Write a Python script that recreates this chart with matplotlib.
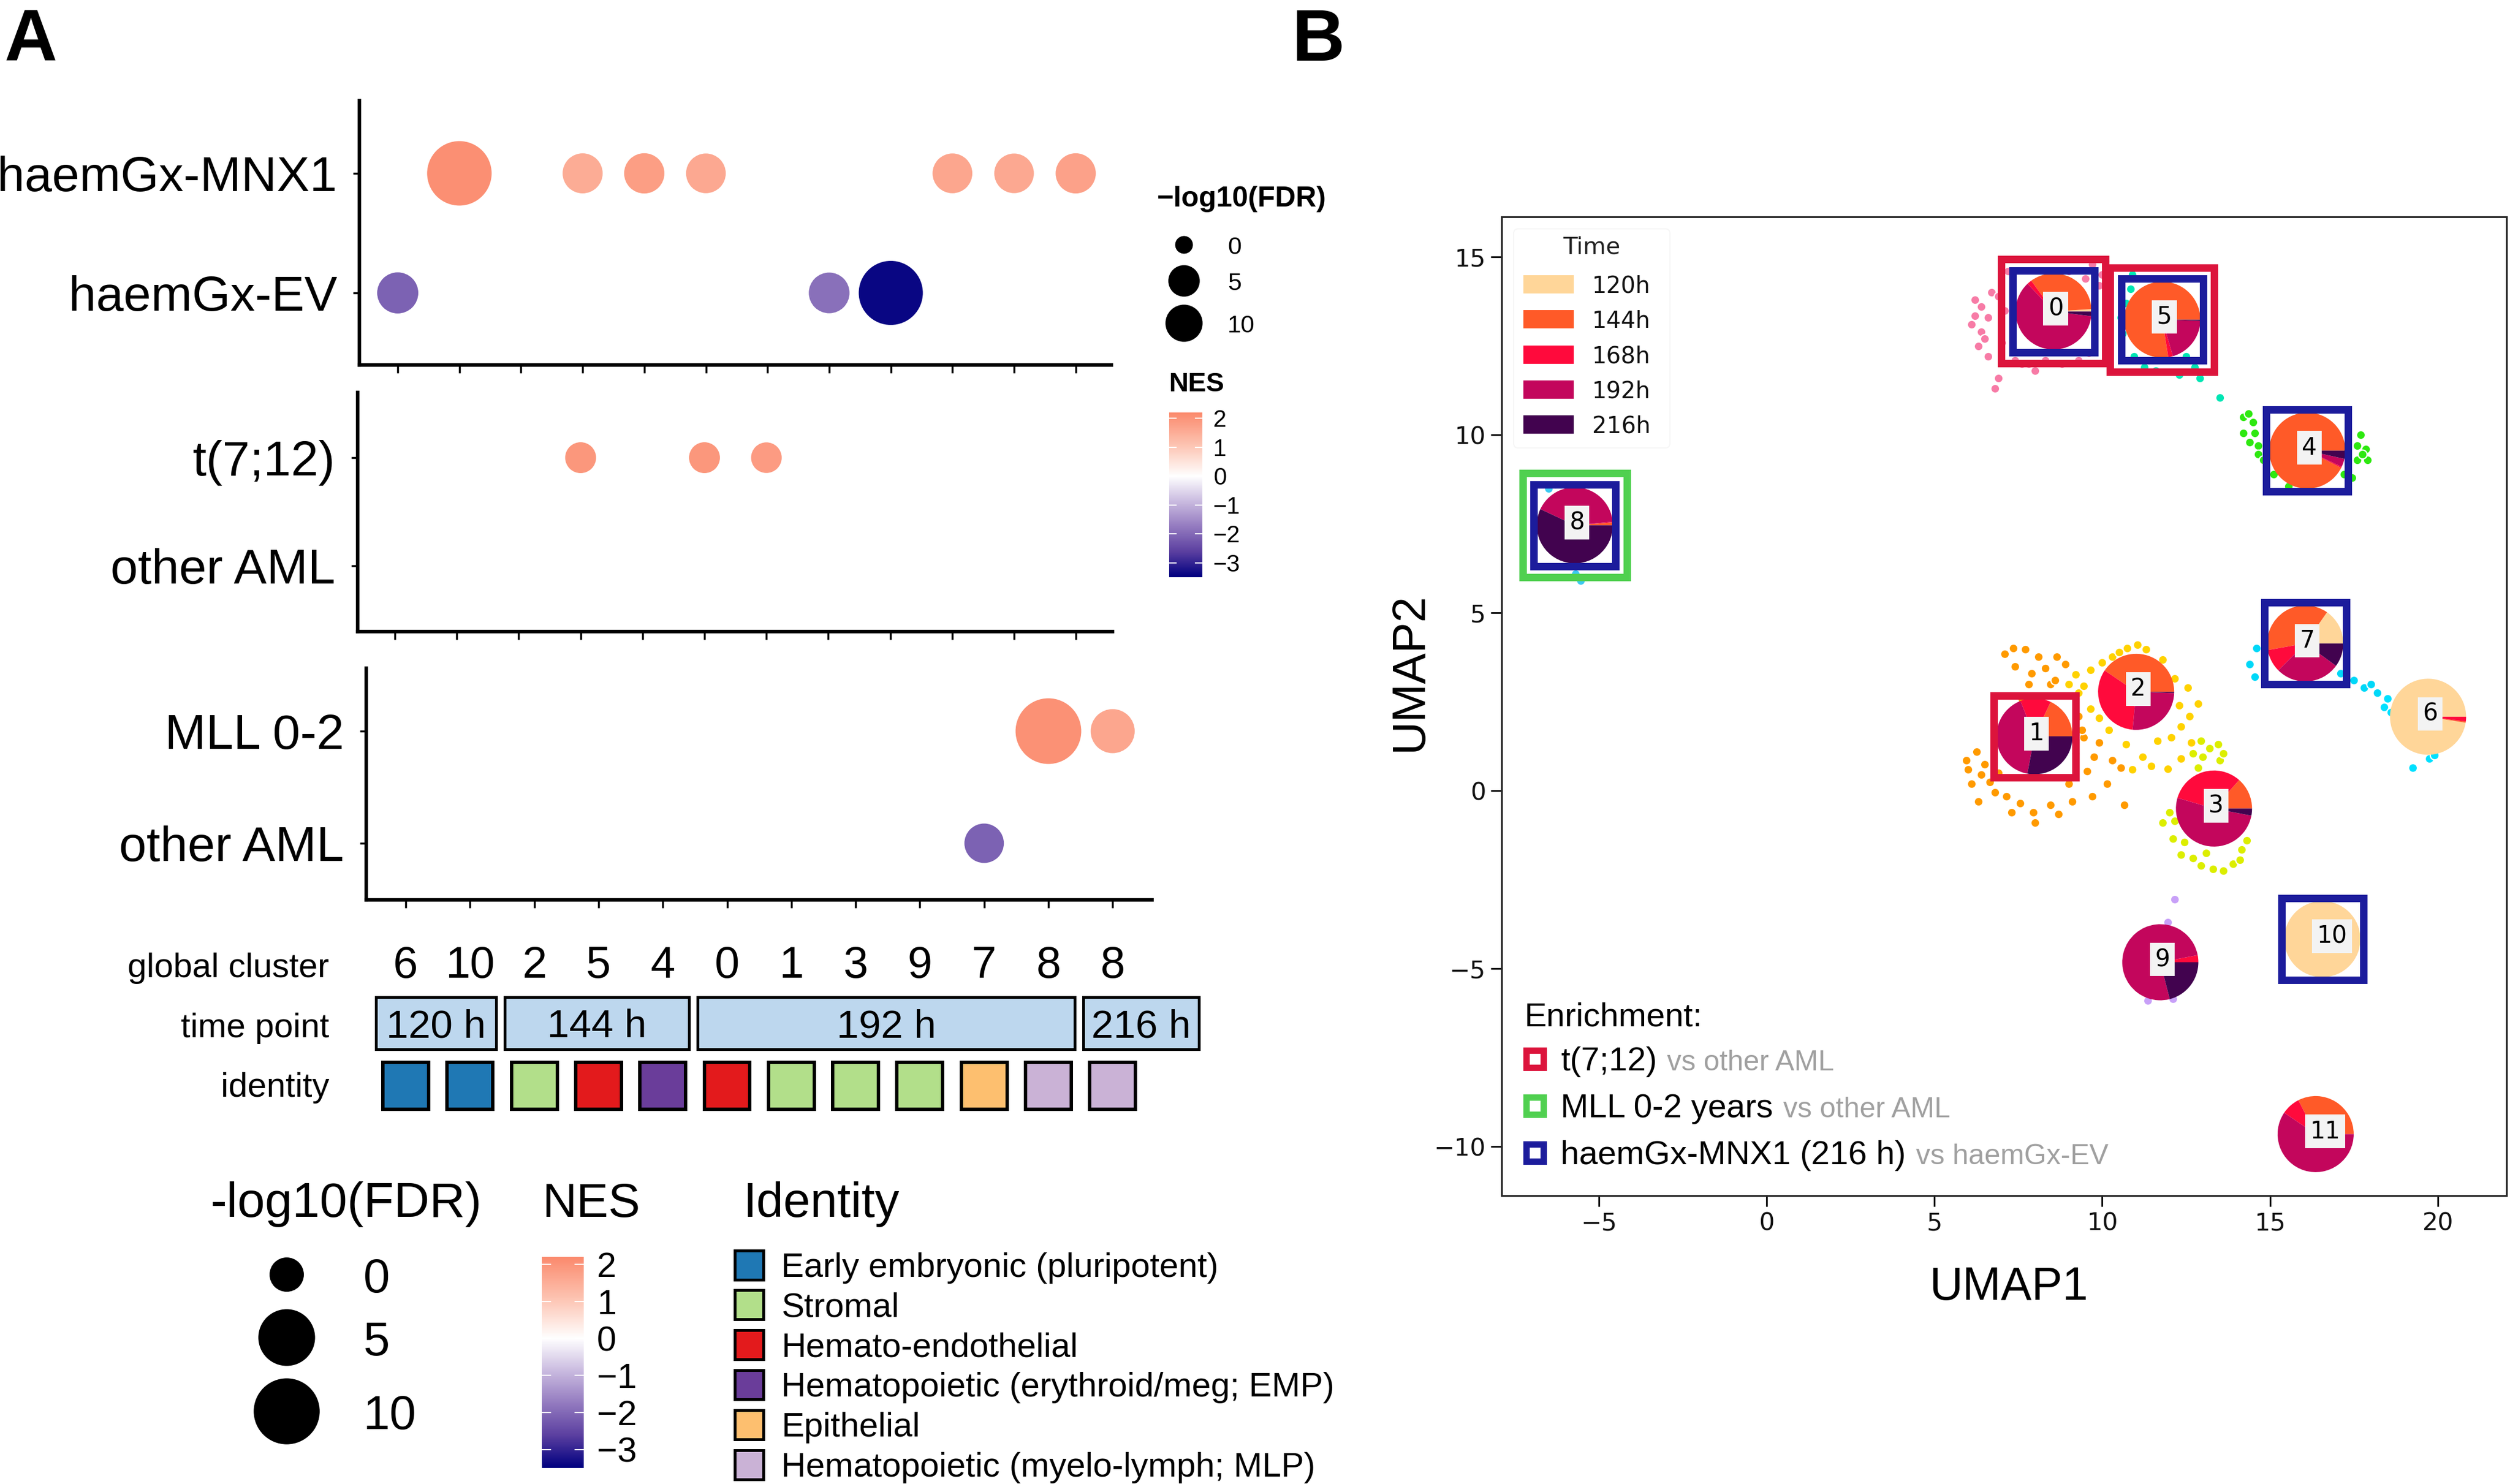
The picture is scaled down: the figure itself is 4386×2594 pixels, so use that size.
import numpy as np
import matplotlib
matplotlib.use('Agg')
import matplotlib.pyplot as plt
from matplotlib.patches import Rectangle, Wedge, FancyBboxPatch
from matplotlib.colors import LinearSegmentedColormap, Normalize
from matplotlib.transforms import ScaledTranslation

W, H, DPI = 4386, 2594, 100
plt.rcParams['font.family'] = ['Liberation Sans', 'DejaVu Sans']

# ---------------- panel A data ----------------
nan = np.nan
clusters = ['6', '10', '2', '5', '4', '0', '1', '3', '9', '7', '8', '8']
time_of_col = ['120 h', '120 h', '144 h', '144 h', '144 h',
               '192 h', '192 h', '192 h', '192 h', '192 h', '192 h', '216 h']
identity_of_col = ['Early embryonic (pluripotent)', 'Early embryonic (pluripotent)',
                   'Stromal', 'Hemato-endothelial', 'Hematopoietic (erythroid/meg; EMP)',
                   'Hemato-endothelial', 'Stromal', 'Stromal', 'Stromal', 'Epithelial',
                   'Hematopoietic (myelo-lymph; MLP)', 'Hematopoietic (myelo-lymph; MLP)']
identity_names = ['Early embryonic (pluripotent)', 'Stromal', 'Hemato-endothelial',
                  'Hematopoietic (erythroid/meg; EMP)', 'Epithelial',
                  'Hematopoietic (myelo-lymph; MLP)']
identity_colors = ['#1F78B4', '#B2DF8A', '#E31A1C', '#6A3D9A', '#FDBF6F', '#CAB2D6']

# NES and -log10(FDR) per column (nan = not significant)
mnx1_nes = [nan, 2.1, nan, 1.55, 1.8, 1.6, nan, nan, nan, 1.65, 1.6, 1.75]
mnx1_fdr = [nan, 58, nan, 13.2, 13.5, 12.8, nan, nan, nan, 12.9, 12.7, 13.4]
ev_nes = [-2.1, nan, nan, nan, nan, nan, nan, -1.9, -3.4, nan, nan, nan]
ev_fdr = [14.5, nan, nan, nan, nan, nan, nan, 14.0, 57, nan, nan, nan]
t712_nes = [nan, nan, nan, 1.95, nan, 1.95, 1.85, nan, nan, nan, nan, nan]
t712_fdr = [nan, nan, nan, 4.6, nan, 4.6, 4.4, nan, nan, nan, nan, nan]
aml1_nes = [nan] * 12
aml1_fdr = [nan] * 12
mll_nes = [nan, nan, nan, nan, nan, nan, nan, nan, nan, nan, 2.05, 1.65]
mll_fdr = [nan, nan, nan, nan, nan, nan, nan, nan, nan, nan, 61, 18.4]
aml2_nes = [nan, nan, nan, nan, nan, nan, nan, nan, nan, -2.1, nan, nan]
aml2_fdr = [nan, nan, nan, nan, nan, nan, nan, nan, nan, 12.5, nan, nan]

fdr_breaks = [0, 5, 10]
nes_breaks = [2, 1, 0, -1, -2, -3]
nes_lo, nes_hi = -3.5, 2.2

# ---------------- panel B data ----------------
time_labels = ['120h', '144h', '168h', '192h', '216h']
time_colors = ['#FFD699', '#FF5A28', '#FF0A3C', '#C3065C', '#42034F']
pie_x = [8.55, 7.98, 11.01, 13.33, 16.11, 11.79, 19.71, 16.05, -5.72, 11.73, 16.56, 16.36]
pie_y = [13.47, 1.53, 2.78, -0.50, 9.56, 13.24, 2.08, 4.14, 7.46, -4.82, -4.17, -9.65]
# fraction of cells per time point (120h, 144h, 168h, 192h, 216h), cluster 0..11
pie_frac = [
    [0.01, 0.34, 0.02, 0.61, 0.02],
    [0.0, 0.18, 0.13, 0.41, 0.28],
    [0.0, 0.405, 0.33, 0.26, 0.005],
    [0.0, 0.135, 0.32, 0.515, 0.03],
    [0.0, 0.925, 0.005, 0.035, 0.035],
    [0.0, 0.775, 0.02, 0.20, 0.005],
    [0.975, 0.005, 0.02, 0.0, 0.0],
    [0.153, 0.375, 0.097, 0.275, 0.10],
    [0.0, 0.012, 0.003, 0.415, 0.57],
    [0.0, 0.0, 0.03, 0.76, 0.21],
    [1.0, 0.0, 0.0, 0.0, 0.0],
    [0.0, 0.325, 0.08, 0.595, 0.0],
]
enrich_t712 = [0, 5, 1]
enrich_mll = [8]
enrich_mnx1 = [0, 5, 4, 8, 7, 10]

cells = {
    0: [(6.2, 13.8), (6.4, 13.6), (6.1, 13.1), (6.4, 12.9), (6.3, 12.5), (6.6, 13.3), (6.7, 14.0),
        (6.6, 12.2), (6.9, 11.6), (6.8, 11.3), (7.0, 12.6), (7.4, 12.1), (7.8, 12.0), (8.3, 12.1),
        (8.8, 12.0), (9.3, 12.1), (9.6, 12.3), (9.5, 14.4), (9.7, 14.8), (10.1, 14.9), (9.9, 14.2),
        (7.2, 14.6), (9.4, 13.0), (7.1, 13.5), (6.5, 12.7), (6.2, 13.35), (6.9, 13.9),
        (7.6, 12.0), (9.0, 14.6), (10.0, 14.5), (8.0, 11.8)],
    1: [(7.35, 4.0), (7.7, 3.97), (8.1, 3.77), (8.65, 3.77), (7.9, 3.3), (8.3, 3.45), (7.4, 3.5),
        (7.8, 3.0), (8.45, 3.0), (5.95, 0.85), (6.25, 1.1), (6.4, 0.45), (6.0, 0.6), (6.65, 0.25),
        (6.8, -0.05), (7.15, -0.15), (7.55, -0.35), (7.95, -0.6), (8.45, -0.4), (9.45, 1.5),
        (9.75, 0.95), (9.55, 0.55), (10.15, 0.2), (9.7, -0.15), (10.55, 0.65), (10.65, -0.4),
        (9.2, 1.05), (9.3, 2.1), (8.6, 3.1), (9.4, 1.7), (6.1, 0.2), (6.5, 0.75), (6.9, 0.5),
        (7.3, -0.6), (8.0, -0.9), (8.7, -0.65), (9.0, 0.2), (9.1, -0.3), (7.1, 3.85),
        (8.9, 3.55), (7.6, 2.6), (9.9, 1.35), (10.3, 0.85), (6.3, -0.3)],
    2: [(10.3, 3.77), (10.75, 4.0), (11.3, 3.97), (11.8, 3.68), (12.15, 3.15), (12.3, 2.4),
        (12.85, 2.45), (12.35, 1.8), (12.05, 1.5), (11.65, 1.4), (11.2, 0.95), (11.95, 0.62),
        (12.35, 0.9), (9.2, 3.27), (9.65, 3.4), (9.0, 3.0), (9.65, 2.3), (9.3, 2.75), (10.2, 1.7),
        (10.7, 1.3), (10.0, 3.6), (10.5, 3.9), (11.05, 4.1), (12.55, 2.9), (12.6, 2.1),
        (12.65, 1.35), (11.45, 0.7), (10.9, 0.6), (9.45, 2.95), (9.9, 2.05)],
    3: [(12.95, 1.4), (13.2, 1.2), (13.5, 0.85), (12.7, 1.05), (13.45, 1.3), (12.85, 0.65),
        (11.8, -0.9), (12.15, -0.85), (12.35, -1.8), (12.7, -1.9), (13.3, -2.2), (13.9, -2.05),
        (14.15, -1.65), (13.1, -1.75), (12.1, -1.35), (13.6, 1.05), (13.0, 0.95), (12.45, -1.45),
        (12.95, -2.1), (13.6, -2.25), (14.3, -1.4), (12.0, -0.6), (14.1, -1.95)],
    4: [(14.2, 10.5), (14.5, 10.35), (14.2, 10.05), (14.55, 10.05), (14.65, 9.7), (14.65, 9.45),
        (14.4, 9.8), (15.1, 8.9), (15.55, 8.55), (17.6, 9.7), (17.85, 9.6), (17.9, 9.3),
        (17.6, 9.3), (17.2, 8.9), (17.45, 8.8), (17.7, 10.0), (14.35, 10.6), (14.8, 9.3),
        (17.75, 9.45), (17.3, 9.6)],
    5: [(10.9, 14.5), (10.85, 14.1), (10.55, 13.3), (10.6, 12.85), (10.95, 12.2), (11.25, 11.9),
        (11.6, 11.8), (12.5, 12.2), (12.75, 11.9), (12.9, 11.6), (13.5, 11.05), (12.3, 11.7),
        (10.7, 13.7)],
    6: [(18.5, 2.6), (18.4, 2.35), (18.6, 2.2), (19.25, 0.65), (19.75, 0.9), (19.9, 1.0), (20.3, 1.6)],
    7: [(14.6, 4.0), (14.4, 3.55), (14.55, 3.2), (17.1, 3.3), (17.5, 3.1), (17.8, 2.9),
        (18.0, 3.0), (18.2, 2.75)],
    8: [(-6.5, 8.5), (-6.3, 8.6), (-5.7, 6.1), (-5.4, 6.0), (-5.55, 5.9)],
    9: [(12.15, -3.05), (11.95, -3.7), (11.35, -5.9), (12.1, -5.85)],
}
cell_colors = {0: '#F77BA6', 1: '#FF9A00', 2: '#FFD200', 3: '#DCEE00', 4: '#2EE810',
               5: '#00E6B4', 6: '#00E0FF', 7: '#00D8F8', 8: '#3CCAF2', 9: '#C8A0F8'}

# ---------------- helpers ----------------
fig = plt.figure(figsize=(W / DPI, H / DPI), dpi=DPI)
fig.patch.set_facecolor('white')


def px_axes(l, t, r, b):
    return fig.add_axes([l / W, 1 - b / H, (r - l) / W, (b - t) / H])


def dot_px(v, d0=31.0, k=10.73):
    # ggplot-like area scale: diameter grows with sqrt of value
    return d0 + k * np.sqrt(np.asarray(v, float))


def dot_area(v, d0=31.0, k=10.73):
    return (dot_px(v, d0, k) * 72 / DPI) ** 2


stops = [(-3.5, '#000080'), (-2.625, '#5B3FA0'), (-1.75, '#947BC0'), (-0.875, '#CABBE0'),
         (0.0, '#FFFFFF'), (1.1, '#FDC3B1'), (2.2, '#FB8A6D')]
cmap = LinearSegmentedColormap.from_list(
    'nes', [((v - nes_lo) / (nes_hi - nes_lo), c) for v, c in stops])
norm = Normalize(nes_lo, nes_hi)

# ---------------- panel A: bubble panels ----------------
panels = [
    (['haemGx-EV', 'haemGx-MNX1'], [(ev_nes, ev_fdr), (mnx1_nes, mnx1_fdr)],
     (628, 176, 1942, 638), 695, 107.7, (512, 303)),
    (['other AML', 't(7;12)'], [(aml1_nes, aml1_fdr), (t712_nes, t712_fdr)],
     (625, 686, 1944, 1104), 690, 108.2, (989, 800)),
    (['other AML', 'MLL 0-2'], [(aml2_nes, aml2_fdr), (mll_nes, mll_fdr)],
     (640, 1168, 2013, 1573), 709, 112.3, (1474, 1278)),
]
cols = np.arange(len(clusters))
for labels, rows, (l, t, r, b), col0, step, (py0, py1) in panels:
    ax = px_axes(l, t, r, b)
    for yi, (nes, fdr) in enumerate(rows):
        nes = np.asarray(nes, float)
        fdr = np.asarray(fdr, float)
        ok = ~np.isnan(nes)
        if ok.any():
            ax.scatter(cols[ok], np.full(ok.sum(), yi), s=dot_area(fdr[ok]), c=nes[ok],
                       cmap=cmap, norm=norm, edgecolors='none', zorder=3, clip_on=False)
    per = py0 - py1
    ax.set_xlim((l - col0) / step, (r - col0) / step)
    ax.set_ylim(-(b - py0) / per, 1 + (py1 - t) / per)
    for s in ['top', 'right']:
        ax.spines[s].set_visible(False)
    for s in ['left', 'bottom']:
        ax.spines[s].set_linewidth(4.5)
    ax.set_xticks(cols)
    ax.set_xticklabels([])
    ax.set_yticks([0, 1])
    ax.set_yticklabels(labels, fontsize=62)
    ax.tick_params(axis='x', length=10, width=2.5)
    ax.tick_params(axis='y', length=8, width=2.5, pad=20)
    ax.patch.set_alpha(0)
last_xlim = ax.get_xlim()

# annotation rows under the bubbles (aligned with the last panel's columns)
axa = px_axes(640, 1620, 2013, 1960)
axa.set_xlim(last_xlim)
axa.set_ylim(1960, 1620)
axa.axis('off')
for i, c in enumerate(clusters):
    axa.text(i, 1709, c, ha='center', va='baseline', fontsize=56)
# time point groups
groups = []
for i, tp in enumerate(time_of_col):
    if groups and groups[-1][0] == tp:
        groups[-1][2] = i
    else:
        groups.append([tp, i, i])
for tp, first, last in groups:
    x0 = first - 0.46
    w = max(last - first + 0.87, 1.8)
    axa.add_patch(Rectangle((x0, 1743), w, 91, fc='#BDD7EE', ec='black', lw=3.5,
                            clip_on=False))
    axa.text(x0 + w / 2, 1813, tp, ha='center', va='baseline', fontsize=50)
for i, idn in enumerate(identity_of_col):
    col = identity_colors[identity_names.index(idn)]
    axa.add_patch(Rectangle((i - 0.356, 1857), 0.712, 82, fc=col, ec='black', lw=4.3,
                            clip_on=False))

# ---------------- panel B: UMAP ----------------
axb = px_axes(2624, 379, 4380, 2090)
for k, pts in cells.items():
    pts = np.asarray(pts)
    axb.scatter(pts[:, 0], pts[:, 1], s=125, c=cell_colors[k], edgecolors='white',
                linewidths=1.6, zorder=2)

PIE_R = 0.665      # inches
BOX_IN, BOX_OUT, BOX_LW = 1.43, 1.82, 9.4
for k in range(len(pie_x)):
    tr = fig.dpi_scale_trans + ScaledTranslation(pie_x[k], pie_y[k], axb.transData)
    fr = np.asarray(pie_frac[k], float)
    fr = fr / fr.sum()
    a0 = 0.0
    for f, colr in zip(fr, time_colors):
        if f <= 0:
            continue
        axb.add_patch(Wedge((0, 0), PIE_R, a0, a0 + 360 * f, transform=tr,
                            fc=colr, ec='none', zorder=3))
        a0 += 360 * f
    axb.annotate(str(k), xy=(pie_x[k], pie_y[k]), xytext=(-7, 3.5), textcoords='offset points',
                 ha='left', va='center', fontsize=30, family='DejaVu Sans', zorder=5,
                 bbox=dict(boxstyle='square,pad=0.2', fc='#F3F3F3', ec='none'))


def box(k, size, colr):
    tr = fig.dpi_scale_trans + ScaledTranslation(pie_x[k], pie_y[k], axb.transData)
    axb.add_patch(Rectangle((-size / 2, -size / 2), size, size, transform=tr, fill=False,
                            ec=colr, lw=BOX_LW, zorder=6))


RED, GREEN, BLUE = '#DC143C', '#50D050', '#1C1C9C'
for k in enrich_mnx1:
    box(k, BOX_IN, BLUE)
for k in enrich_t712:
    box(k, BOX_OUT if k in enrich_mnx1 else BOX_IN, RED)
for k in enrich_mll:
    box(k, BOX_OUT if k in enrich_mnx1 else BOX_IN, GREEN)

axb.set_xlim(-7.9, 22.05)
axb.set_ylim(-11.38, 16.13)
axb.set_xticks([-5, 0, 5, 10, 15, 20])
axb.set_yticks([-10, -5, 0, 5, 10, 15])
axb.tick_params(length=14, width=2.2, labelsize=31, pad=6, colors='#111111',
                labelfontfamily='DejaVu Sans')
for s in axb.spines.values():
    s.set_linewidth(2.2)
    s.set_color('#222222')
axb.set_xlabel('UMAP1', fontsize=58)
axb.set_ylabel('UMAP2', fontsize=58)
axb.xaxis.set_label_coords(0.5046, -0.072)
axb.yaxis.set_label_coords(-0.0695, 0.535)

# ---------------- overlay in pixel coordinates ----------------
ov = fig.add_axes([0, 0, 1, 1])
ov.axis('off')
ov.patch.set_alpha(0)

ov.text(8, 106, 'A', fontsize=92, fontweight='bold', va='baseline')
ov.text(2257, 106, 'B', fontsize=92, fontweight='bold', va='baseline')

# row labels for the annotation strip
ov.text(575, 1708, 'global cluster', ha='right', va='baseline', fontsize=43)
ov.text(575, 1813, 'time point', ha='right', va='baseline', fontsize=43)
ov.text(575, 1917, 'identity', ha='right', va='baseline', fontsize=43)


def nes_bar(x0, x1, y_top, y_bot, lab_x, fs, lab_shift):
    grad = np.linspace(nes_hi, nes_lo, 256).reshape(-1, 1)
    ov.imshow(grad, extent=[x0, x1, y_bot, y_top], cmap=cmap, norm=norm,
              aspect='auto', origin='upper', zorder=2)
    per = (y_bot - y_top) / (nes_hi - nes_lo)
    w = (x1 - x0) / 5
    for v in nes_breaks:
        y = y_top + (nes_hi - v) * per
        ov.plot([x0, x0 + w], [y, y], color='white', lw=1.5, zorder=3)
        ov.plot([x1 - w, x1], [y, y], color='white', lw=1.5, zorder=3)
        ov.text(lab_x, y + lab_shift, str(v).replace('-', '\u2212'), fontsize=fs,
                va='baseline', ha='left')


# small legend beside the bubbles
ov.text(2022, 348, '\u2212log10(FDR)', fontsize=36, fontweight='bold', va='center')
for v, yb in zip(fdr_breaks, [444, 507, 581]):
    yc = yb - 16
    ov.scatter([2069], [yc], s=dot_area(v), c='black', edgecolors='none')
    ov.text(2145, yb, str(v), fontsize=31, va='baseline')
ov.text(2043, 672, 'NES', fontsize=34, fontweight='bold', va='center')
nes_bar(2043, 2101, 721, 1009, 2120, 30, 15)

# large legend at the bottom of panel A
ov.text(367, 2127, '-log10(FDR)', fontsize=62, va='baseline')
for v, yb in zip(fdr_breaks, [2259, 2369, 2498]):
    yc = yb - 31
    ov.scatter([501], [yc], s=dot_area(v, 60, 17.5), c='black', edgecolors='none')
    ov.text(635, yb, str(v), fontsize=60, va='baseline')
ov.text(947, 2127, 'NES', fontsize=60, va='baseline')
nes_bar(947, 1020, 2197, 2566, 1043, 44, 22)
ov.text(1298, 2127, 'Identity', fontsize=61, va='baseline')
for i, (name, colr) in enumerate(zip(identity_names, identity_colors)):
    yc = 2211 + 69.8 * i
    ov.add_patch(Rectangle((1284, yc - 25.5), 50, 51, fc=colr, ec='black', lw=3.6))
    ov.text(1365, yc + 21, name, fontsize=43, va='baseline')

# Time legend inside the UMAP
ov.add_patch(FancyBboxPatch((2645, 400), 273, 383, boxstyle='round,pad=0,rounding_size=8',
                            ec='#F6F6F6', fc='white', lw=1.5))
ov.text(2781, 433, 'Time', fontsize=29.5, family='DejaVu Sans', ha='center', va='center',
        color='#222222')
for i, (lab, colr) in enumerate(zip(time_labels, time_colors)):
    yc = 497 + 61.3 * i
    ov.add_patch(Rectangle((2662, yc - 16), 88, 32, fc=colr, ec='none'))
    ov.text(2782, yc + 14.5, lab, fontsize=29, family='DejaVu Sans', va='baseline',
            color='#111111')

# Enrichment legend
ov.text(2663, 1793, 'Enrichment:', fontsize=42, va='baseline')
enrich_rows = [('t(7;12)', 'vs other AML', RED),
               ('MLL 0-2 years', 'vs other AML', GREEN),
               ('haemGx-MNX1 (216 h)', 'vs haemGx-EV', BLUE)]
for i, (main, rest, colr) in enumerate(enrich_rows):
    base = 1871 + 82 * i
    ov.plot([2682], [base - 20], marker='s', ms=22, mfc='white', mec=colr, mew=8, ls='none')
    t = ov.text(2727, base, main, fontsize=42, va='baseline')
    ov.annotate(rest, xy=(1, base), xycoords=(t, 'data'), xytext=(13, 0),
                textcoords='offset points', fontsize=36, color='#A0A0A0', va='baseline')

ov.set_xlim(0, W)
ov.set_ylim(H, 0)

fig.savefig('out.png', dpi=DPI, facecolor='white')
